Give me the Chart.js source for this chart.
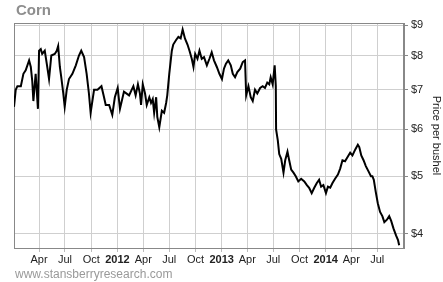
<!DOCTYPE html>
<html>
<head>
<meta charset="utf-8">
<script src="https://cdn.jsdelivr.net/npm/chart.js@4.4.1/dist/chart.umd.min.js"></script>
<style>
  body { margin: 0; background: #fff; }
  #wrap { position: relative; width: 443px; height: 282px; font-family: "Liberation Sans", Arial, sans-serif; }
  #title { position: absolute; left: 16px; top: 1px; font-size: 15px; font-weight: bold; color: #8e8e8e; }
  #source { position: absolute; left: 15px; top: 267px; font-size: 12px; color: #999; }
</style>
</head>
<body>
<div id="wrap">
  <canvas id="chart"></canvas>
  <div id="title">Corn</div>
  <div id="source">www.stansberryresearch.com</div>
</div>
<script>
// corn price, $ per bushel
const dates = [
  // 2011
  '2011-01-03', '2011-01-09', '2011-01-15', '2011-01-27', '2011-02-05', '2011-02-13',
  '2011-02-25', '2011-03-03', '2011-03-08', '2011-03-12', '2011-03-20', '2011-03-28',
  '2011-04-01', '2011-04-07', '2011-04-12', '2011-04-21', '2011-04-28', '2011-05-06',
  '2011-05-14', '2011-05-26', '2011-06-02', '2011-06-07', '2011-06-13', '2011-06-18',
  '2011-06-25', '2011-06-30', '2011-07-07', '2011-07-15', '2011-07-27', '2011-08-08',
  '2011-08-19', '2011-08-27', '2011-09-06', '2011-09-15', '2011-09-23', '2011-09-29',
  '2011-10-11', '2011-10-23', '2011-11-06', '2011-11-15', '2011-11-21', '2011-12-03',
  '2011-12-14', '2011-12-23',
  // 2012
  '2012-01-02', '2012-01-10', '2012-01-24', '2012-02-11', '2012-02-26', '2012-03-05',
  '2012-03-13', '2012-03-20', '2012-03-24', '2012-03-30', '2012-04-07', '2012-04-13',
  '2012-04-22', '2012-04-28', '2012-05-04', '2012-05-09', '2012-05-16', '2012-05-20',
  '2012-05-27', '2012-06-05', '2012-06-13', '2012-06-20', '2012-06-24', '2012-07-01',
  '2012-07-10', '2012-07-15', '2012-07-25', '2012-08-02', '2012-08-10', '2012-08-17',
  '2012-08-25', '2012-09-03', '2012-09-10', '2012-09-18', '2012-09-24', '2012-09-30',
  '2012-10-08', '2012-10-15', '2012-10-23', '2012-10-31', '2012-11-10', '2012-11-19',
  '2012-11-27', '2012-12-05', '2012-12-15', '2012-12-24',
  // 2013
  '2013-01-02', '2013-01-09', '2013-01-16', '2013-01-24', '2013-02-02', '2013-02-09',
  '2013-02-17', '2013-02-25', '2013-03-07', '2013-03-16', '2013-03-24', '2013-03-28',
  '2013-04-05', '2013-04-13', '2013-04-20', '2013-04-28', '2013-05-06', '2013-05-16',
  '2013-05-25', '2013-06-02', '2013-06-10', '2013-06-17', '2013-06-22', '2013-06-29',
  '2013-07-06', '2013-07-10', '2013-07-11', '2013-07-17', '2013-07-22', '2013-07-29',
  '2013-08-06', '2013-08-12', '2013-08-20', '2013-08-26', '2013-09-02', '2013-09-10',
  '2013-09-18', '2013-09-27', '2013-10-07', '2013-10-18', '2013-10-27', '2013-11-04',
  '2013-11-13', '2013-11-22', '2013-12-01', '2013-12-09', '2013-12-16', '2013-12-24',
  // 2014
  '2014-01-02', '2014-01-09', '2014-01-17', '2014-01-25', '2014-02-03', '2014-02-13',
  '2014-02-21', '2014-03-01', '2014-03-10', '2014-03-20', '2014-03-28', '2014-04-05',
  '2014-04-15', '2014-04-24', '2014-04-29', '2014-05-06', '2014-05-14', '2014-05-22',
  '2014-05-31', '2014-06-09', '2014-06-14', '2014-06-19', '2014-06-26', '2014-07-03',
  '2014-07-11', '2014-07-19', '2014-07-26', '2014-08-04', '2014-08-12', '2014-08-19',
  '2014-08-27', '2014-09-05', '2014-09-12', '2014-09-16'
];
const prices = [
  // 2011
  6.55, 7.0, 7.1, 7.1, 7.45, 7.55,
  7.85, 7.65, 7.25, 6.7, 7.45, 6.5,
  8.15, 8.2, 8.05, 8.15, 7.75, 7.3,
  8.0, 8.05, 8.15, 8.3, 7.65, 7.35,
  6.9, 6.55, 7.0, 7.3, 7.45, 7.7,
  8.0, 8.15, 7.95, 7.45, 6.9, 6.4,
  7.0, 7.0, 7.1, 6.8, 6.6, 6.6,
  6.35, 6.8,
  // 2012
  7.05, 6.5, 6.95, 6.85, 7.1, 6.85,
  7.15, 6.9, 6.6, 7.15, 6.9, 6.6,
  6.8, 6.65, 6.75, 6.4, 6.8, 6.3,
  6.05, 6.45, 6.4, 6.65, 6.85, 7.45,
  8.15, 8.35, 8.5, 8.6, 8.55, 8.85,
  8.55, 8.35, 8.15, 7.9, 7.65, 8.05,
  7.9, 8.15, 7.9, 7.95, 7.7, 7.9,
  8.1, 7.85, 7.65, 7.45,
  // 2013
  7.3, 7.6, 7.75, 7.85, 7.7, 7.45,
  7.35, 7.5, 7.6, 7.8, 7.85, 6.85,
  7.1, 6.8, 6.7, 7.0, 6.9, 7.05,
  7.1, 7.05, 7.2, 7.15, 7.35, 7.15,
  7.7, 7.1, 6.0, 5.75, 5.45, 5.35,
  5.07, 5.32, 5.5, 5.32, 5.13, 5.07,
  5.0, 4.9, 4.95, 4.9, 4.83, 4.78,
  4.68, 4.78, 4.87, 4.93, 4.8, 4.83,
  // 2014
  4.68, 4.8, 4.78, 4.87, 4.95, 5.03,
  5.15, 5.32, 5.3, 5.4, 5.48, 5.42,
  5.55, 5.65, 5.6, 5.42, 5.32, 5.2,
  5.1, 5.0, 5.0, 4.93, 4.7, 4.5,
  4.35, 4.28, 4.18, 4.22, 4.28, 4.2,
  4.08, 3.97, 3.9, 3.82
];

const tickDates = [
  '2011-04-01', '2011-07-01', '2011-10-01', '2012-01-01', '2012-04-01', '2012-07-01',
  '2012-10-01', '2013-01-01', '2013-04-01', '2013-07-01', '2013-10-01', '2014-01-01',
  '2014-04-01', '2014-07-01'
];
const tickLabels = [
  'Apr', 'Jul', 'Oct', '2012', 'Apr', 'Jul',
  'Oct', '2013', 'Apr', 'Jul', 'Oct', '2014',
  'Apr', 'Jul'
];
const priceTicks = [4, 5, 6, 7, 8, 9];

const xStart = '2011-01-03';
const xEnd = '2014-10-03';

// days since 2011-01-01, so a plain linear axis can be used (no date adapter)
const DAY = 86400000;
const ORIGIN = Date.UTC(2011, 0, 1);
function toDay(s) {
  const [y, m, d] = s.split('-').map(Number);
  return (Date.UTC(y, m - 1, d) - ORIGIN) / DAY;
}

const points = dates.map((d, i) => ({ x: toDay(d), y: prices[i] }));
const tickDays = tickDates.map(toDay);

const FONT = '"Liberation Sans", Arial, sans-serif';

// thin frame round the plot area
const frame = {
  id: 'frame',
  beforeDatasetsDraw(chart) {
    const { ctx, chartArea: a } = chart;
    ctx.save();
    ctx.strokeStyle = '#888';
    ctx.lineWidth = 1;
    ctx.strokeRect(Math.round(a.left) + 0.5, Math.round(a.top) + 0.5,
      Math.round(a.right - a.left) - 1, Math.round(a.bottom - a.top));
    ctx.restore();
  }
};

new Chart(document.getElementById('chart'), {
  type: 'line',
  data: {
    datasets: [{
      data: points,
      borderColor: '#000',
      borderWidth: 2,
      pointRadius: 0,
      tension: 0,
      fill: false
    }]
  },
  options: {
    responsive: true,
    maintainAspectRatio: false,
    animation: false,
    layout: { padding: { top: 23, left: 14, right: 0, bottom: 0 } },
    plugins: {
      legend: { display: false },
      tooltip: { enabled: false }
    },
    scales: {
      x: {
        type: 'linear',
        min: toDay(xStart),
        max: toDay(xEnd),
        afterBuildTicks: scale => {
          scale.ticks = tickDays.map(v => ({ value: v }));
        },
        afterFit: scale => { scale.height = 34; },
        grid: { color: '#cfcfcf', tickLength: 4, tickColor: '#bbb' },
        border: { color: '#888' },
        ticks: {
          autoSkip: false,
          maxRotation: 0,
          padding: 1,
          color: '#222',
          font: ctx => {
            const isYear = ctx.tick && /^\d{4}$/.test(ctx.tick.label);
            return { family: FONT, size: 11, weight: isYear ? 'bold' : 'normal' };
          },
          callback: (v, i) => tickLabels[i]
        }
      },
      y: {
        type: 'logarithmic',
        position: 'right',
        min: 3.78,
        max: 9.08,
        afterBuildTicks: scale => {
          scale.ticks = priceTicks.map(v => ({ value: v }));
        },
        afterFit: scale => { scale.width = 39; },
        grid: { color: '#cfcfcf', tickLength: 4, tickColor: '#888' },
        border: { color: '#888' },
        ticks: {
          padding: 3,
          color: '#222',
          font: { family: FONT, size: 11 },
          callback: v => '$' + v
        },
        title: {
          display: true,
          text: 'Price per bushel',
          color: '#1a1a1a',
          padding: { top: 0, bottom: 0 },
          font: { family: FONT, size: 11 }
        }
      }
    }
  },
  plugins: [frame]
});
</script>
</body>
</html>
